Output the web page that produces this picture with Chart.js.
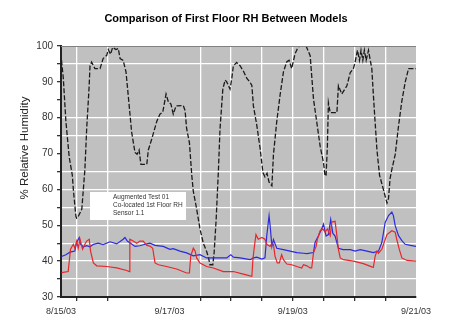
<!DOCTYPE html>
<html lang="en">
<head>
<meta charset="utf-8">
<script src="https://cdn.jsdelivr.net/npm/chart.js@4.4.1/dist/chart.umd.min.js"></script>
<style>
  html, body { margin: 0; padding: 0; background: #fff; }
  #wrap { width: 450px; height: 324px; position: relative; }
</style>
</head>
<body>
<div id="wrap"><canvas id="chart"></canvas></div>
<script>
// hours counted from the first gridline (12 h per gridline)
var blackHours = [-6.0,-5.3,-4.3,-3.0,-1.8,-1.4,-0.4,-0.1,0.4,1.9,2.5,3.1,3.8,4.7,5.1,5.7,7.0,9.0,10.2,11.6,12.2,13.1,13.9,15.2,16.1,16.8,18.0,19.1,20.0,21.3,22.6,23.4,24.2,24.9,27.2,27.8,29.1,31.1,32.3,33.4,34.7,35.6,36.6,37.5,38.6,41.4,42.1,42.7,43.8,44.7,45.3,46.6,47.9,49.2,50.5,51.2,51.8,52.9,53.4,54.2,55.1,55.7,56.8,57.7,58.3,59.6,60.3,60.9,62.2,63.5,64.8,66.1,67.4,68.1,68.7,70.0,71.3,72.4,73.2,74.0,74.8,75.9,76.5,77.8,79.1,80.4,81.7,82.6,83.6,84.9,85.8,86.6,88.1,89.5,90.8,91.4,92.1,93.4,94.7,96.0,96.6,97.0,97.5,97.9,98.6,101.2,101.8,103.1,105.1,106.4,107.6,108.3,109.2,110.0,110.6,111.3,111.9,112.6,113.5,114.2,114.8,115.4,116.1,116.8,117.8,119.3,120.7,121.3,121.9,122.6,123.9,125.2,126.5,127.8,129.1,132.0];
var blackRH = [96,91,79,69,64,60,52.5,52,52.3,54.5,60,65.6,77,88,94.5,95.5,93.7,93.7,96.5,97.4,99,97.7,99.6,99,99.3,96.5,96,92.8,86,76,70.3,69.8,71,67,67,71,74,79,81,81.5,86.6,84.4,83.8,81,83.3,83.4,82,77,73,64,59.5,54.6,49,45,42.7,41,39,39,42.3,51.6,65.6,76.8,88,90.5,90,88,91,94.5,95.4,94.5,93,91,89.9,89,83.3,78,71.5,64.7,63.5,64.5,62,61,69.7,79,86.4,92.8,95.6,96,93.7,97.8,99.2,100,101.5,99.5,97.3,91.7,85.2,78.6,72,67.4,63.7,64,72,84.2,81.4,81.4,88.9,86.6,88.9,92.6,93.6,95.5,98.8,96,98.8,96,98.8,96,98.8,96,93.7,86.4,78.6,71,64,60,56.2,57.5,63,65.6,69.7,77.7,84.7,89.9,93.7,93.7];

var blueHours = [-6.0,-4.3,-2.7,-0.8,-0.1,0.9,1.4,2.5,3.8,5.1,6.4,8.3,10.2,12.9,15.5,18.0,18.7,19.6,21.3,22.6,24.5,26.5,28.4,30.4,33.6,36.2,37.5,40.1,42.7,45.3,47.9,50.5,53.1,58.3,59.9,60.9,63.5,67.4,68.7,70.0,72.0,73.2,73.9,74.8,75.2,75.9,76.5,77.8,80.4,83.0,85.6,88.2,89.5,92.1,92.7,94.0,95.3,96.0,97.0,97.9,98.8,99.6,100.5,101.8,103.6,106.4,108.3,110.3,112.9,115.4,117.4,118.7,120.0,121.3,122.6,123.2,123.9,125.2,126.5,127.8,129.8,132.0];
var blueRH = [41.3,41.8,42.5,42.8,45.2,46.6,44.7,44,44.3,44,44.7,45,44.6,45.4,44.8,46.1,46.6,45.6,44.8,44.1,44.3,44.7,45,44.4,44.1,43.3,43.5,42.8,42.3,41.5,41.8,40.9,40.9,40.9,41.8,41.1,40.9,40.4,40.9,41.1,40.6,40.9,47.1,52.7,50,44.1,46,43.6,43.2,42.8,42.4,42.2,42.1,42.4,45.2,47,49,50.3,47,47.4,51.6,47.8,47,43.6,43.2,43.2,42.8,43.2,42.8,42.4,42.8,45.2,50.8,52.7,53.7,52.7,49.9,47.1,45.7,44.7,44.4,44.1];

var redHours = [-6.0,-3.4,-2.5,-1.4,-0.8,-0.1,0.5,1.2,2.2,3.1,3.8,4.8,5.3,6.4,7.7,11.6,15.5,19.4,20.4,20.6,21.9,23.3,24.5,25.8,27.2,28.4,29.5,30.4,31.7,34.9,38.8,42.7,43.8,44.3,45.3,46.0,46.6,47.9,50.5,53.1,57.0,60.9,64.8,67.4,68.1,68.5,69.0,69.7,70.6,72.0,73.2,73.9,75.2,75.9,76.5,77.1,78.0,78.8,79.7,80.4,81.7,83.6,85.6,87.5,88.2,89.5,90.8,91.4,92.1,93.1,93.6,94.7,95.7,96.6,97.5,98.6,99.2,100.5,101.2,101.8,102.5,103.8,107.6,111.5,114.8,115.4,116.1,116.8,117.4,118.7,120.7,122.6,123.9,124.5,125.5,126.5,128.5,132.0];
var redRH = [36.8,37.1,43.3,44.7,43.6,45.6,43.6,46.1,43.3,44.7,45.6,46.1,42.8,39.5,38.7,38.5,38.1,37.4,37.1,46.1,45.6,45,45.6,45.6,44.4,44.2,43.6,39.5,39,38.5,37.8,36.7,36.7,41.4,43.6,42.8,40.9,39.5,38.5,38.1,37.1,37.1,36.4,35.9,35.8,40.4,43.6,47.4,46.1,46.6,46.1,44.7,44.1,45,44.7,41.4,39.5,39.5,41.8,40.4,39.2,39,38.5,38.1,39,38.7,38.1,38.1,42.4,44.1,46.1,48.5,49,48.1,49,47.1,50.9,51.1,47.1,43.3,40.9,40.4,40,39.3,38.4,38.3,41.4,42.8,42.2,43.3,47.4,48.5,48.1,46.1,43.3,40.9,40.2,40];

var chartTitle = 'Comparison of First Floor RH Between Models';
var yTitle = '% Relative Humidity';
var legendLabels = ['Augmented Test 01', 'Co-located 1st Floor RH', 'Sensor 1.1'];
var xTickHours = [-6.2, 36, 84, 132];
var xTickLabels = ['8/15/03', '9/17/03', '9/19/03', '9/21/03'];
var xGridHours = [0, 12, 48, 60, 72, 84, 96, 108, 120];
var yGridValues = [35, 40, 45, 50, 55, 60, 65, 75, 80, 95];

function pairs(xs, ys) {
  var out = [];
  for (var i = 0; i < xs.length; i++) out.push({x: xs[i], y: ys[i]});
  return out;
}

var plotBack = {
  id: 'plotBack',
  beforeDraw: function (chart) {
    var a = chart.chartArea, ctx = chart.ctx;
    ctx.save();
    ctx.fillStyle = '#c0c0c0';
    ctx.fillRect(a.left, a.top, a.right - a.left, a.bottom - a.top);
    ctx.restore();
  },
  afterDraw: function (chart) {
    var a = chart.chartArea, ctx = chart.ctx;
    ctx.save();
    // top border
    ctx.strokeStyle = '#808080';
    ctx.lineWidth = 1;
    ctx.beginPath();
    ctx.moveTo(a.left, a.top + 0.5);
    ctx.lineTo(a.right, a.top + 0.5);
    ctx.stroke();
    // main title
    ctx.fillStyle = '#000';
    ctx.font = 'bold 11px "Liberation Sans", Arial, sans-serif';
    ctx.textAlign = 'center';
    ctx.textBaseline = 'middle';
    ctx.fillText(chartTitle, 226, 19);
    // y title
    ctx.fillStyle = '#222';
    ctx.font = '11.5px "Liberation Sans", Arial, sans-serif';
    ctx.translate(25, 148);
    ctx.rotate(-Math.PI / 2);
    ctx.fillText(yTitle, 0, 0);
    ctx.restore();

    // legend box
    ctx.save();
    ctx.fillStyle = '#fff';
    ctx.fillRect(90, 192, 96, 28);
    ctx.fillStyle = '#333';
    ctx.font = '6.5px "Liberation Sans", Arial, sans-serif';
    ctx.textAlign = 'left';
    ctx.textBaseline = 'middle';
    for (var i = 0; i < legendLabels.length; i++) {
      ctx.fillText(legendLabels[i], 113, 197 + i * 8.3);
    }
    ctx.restore();
  }
};

new Chart(document.getElementById('chart'), {
  type: 'line',
  data: {
    datasets: [
      { label: legendLabels[2], data: pairs(redHours, redRH), borderColor: '#e8262a', borderWidth: 1.2, pointRadius: 0, tension: 0 },
      { label: legendLabels[1], data: pairs(blueHours, blueRH), borderColor: '#2a2ae0', borderWidth: 1.2, pointRadius: 0, tension: 0 },
      { label: legendLabels[0], data: pairs(blackHours, blackRH), borderColor: '#1a1a1a', borderWidth: 1.3, borderDash: [5, 2], pointRadius: 0, tension: 0 }
    ]
  },
  options: {
    responsive: true,
    maintainAspectRatio: false,
    animation: false,
    layout: { padding: { left: 0, right: 34, top: 46, bottom: 0 } },
    plugins: {
      legend: { display: false },
      tooltip: { enabled: false },
      title: { display: false }
    },
    scales: {
      x: {
        type: 'linear',
        min: -6.2,
        max: 132,
        afterBuildTicks: function (axis) {
          var t = [-6.2];
          for (var h = 0; h <= 132; h += 12) t.push(h);
          axis.ticks = t.map(function (v) { return {value: v}; });
        },
        afterFit: function (axis) { axis.height = 27; },
        ticks: {
          autoSkip: false,
          maxRotation: 0,
          padding: 5,
          color: '#333',
          font: { family: '"Liberation Sans", Arial, sans-serif', size: 9 },
          callback: function (v) {
            var i = xTickHours.indexOf(v);
            return i >= 0 ? xTickLabels[i] : '';
          }
        },
        grid: {
          color: function (c) { return c.tick && xGridHours.indexOf(c.tick.value) >= 0 ? '#ffffff' : 'rgba(0,0,0,0)'; },
          tickColor: function (c) { return c.tick && xGridHours.indexOf(c.tick.value) >= 0 ? '#333' : 'rgba(0,0,0,0)'; },
          lineWidth: 1.3,
          tickLength: 4
        },
        border: { color: '#222', width: 2 }
      },
      y: {
        min: 30,
        max: 100,
        afterBuildTicks: function (axis) {
          var t = [];
          for (var v = 30; v <= 100; v += 5) t.push({value: v});
          axis.ticks = t;
        },
        afterFit: function (axis) { axis.width = 61; },
        ticks: {
          padding: 4,
          color: '#333',
          font: { family: '"Liberation Sans", Arial, sans-serif', size: 10 },
          callback: function (v) { return v % 10 === 0 ? v : ''; }
        },
        grid: {
          color: function (c) { return c.tick && yGridValues.indexOf(c.tick.value) >= 0 ? '#ffffff' : 'rgba(0,0,0,0)'; },
          tickColor: '#333',
          lineWidth: 1.3,
          tickLength: 4
        },
        border: { color: '#222', width: 2 }
      }
    }
  },
  plugins: [plotBack]
});
</script>
</body>
</html>
